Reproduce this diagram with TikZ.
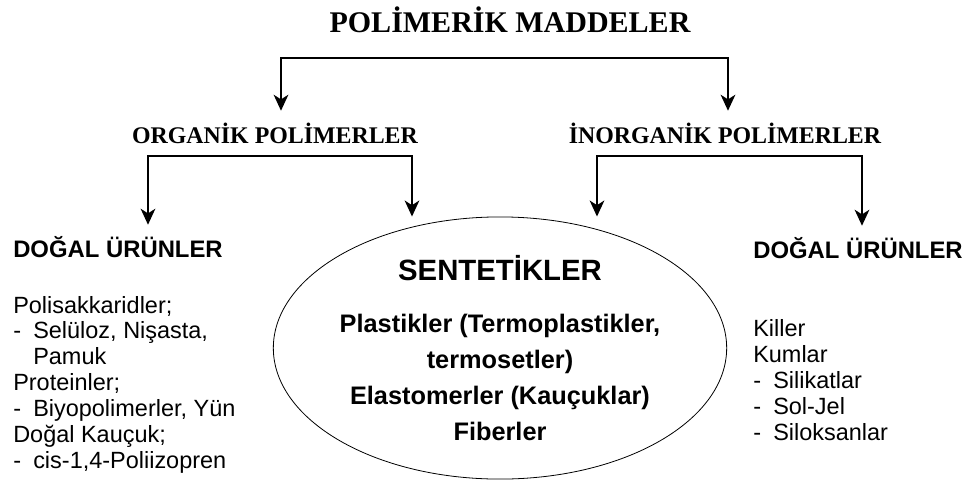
\documentclass[tikz,border=0pt]{standalone}
\usepackage{fontspec}
\setmainfont{Liberation Serif}
\setsansfont{Liberation Sans}
\usetikzlibrary{arrows.meta, shapes.geometric}

\tikzset{
	bar/.style={line width=1.5pt},
	>={Stealth[length=12pt, width=11pt, inset=3.5pt]},
	kind/.style={font=\rmfamily\bfseries\fontsize{17.9}{21}\selectfont, text height=15pt, text depth=4pt, inner xsep=0pt, inner ysep=9pt},
	nat/.style={font=\sffamily\bfseries\fontsize{17.9}{21}\selectfont, text height=15pt, text depth=4pt, inner xsep=0pt, inner ysep=9pt},
	synth/.style={ellipse, draw, line width=0.6pt, minimum width=311pt, minimum height=187.5pt, inner sep=0pt, align=center, font=\sffamily\bfseries\fontsize{19}{27}\selectfont},
	items/.style={font=\sffamily\fontsize{17.6}{19.375}\selectfont, align=left, inner sep=0pt, anchor=base west},
}
\newcommand{\itemdash}{\makebox[15pt][l]{-}}

\begin{document}
\begin{tikzpicture}[x=0.75pt, y=-0.75pt]
		\useasboundingbox (0,0) rectangle (968,497);
		
		\node[font=\rmfamily\bfseries\fontsize{22.5}{27}\selectfont, anchor=base] (poly) at (510,32) {POLİMERİK MADDELER};
		
		\node[kind, anchor=base] (org) at (275,143) {ORGANİK POLİMERLER};
		\node[kind, anchor=base] (inorg) at (725,143) {İNORGANİK POLİMERLER};
		
		\node[nat, anchor=base west] (natL) at (13,257) {DOĞAL ÜRÜNLER};
		\node[nat, anchor=base west] (natR) at (753,258) {DOĞAL ÜRÜNLER};
		
		\node[synth] (syn) at (500,348) {{\fontsize{22}{27}\selectfont SENTETİKLER}\\[12pt]
			Plastikler (Termoplastikler,\\ termosetler)\\ Elastomerler (Kauçuklar)\\ Fiberler};
		
		% base anchor of a multi-line node sits on its last line
		\node[items] (listL) at (13,468) {Polisakkaridler;\\ \itemdash Selüloz, Nişasta,\\ \hspace*{15pt}Pamuk\\ Proteinler;\\ \itemdash Biyopolimerler, Yün\\ Doğal Kauçuk;\\ \itemdash cis-1,4-Poliizopren};
		\node[items] (listR) at (753,440) {Killer\\ Kumlar\\ \itemdash Silikatlar\\ \itemdash Sol-Jel\\ \itemdash Siloksanlar};
		
		\coordinate (t1) at (281,58);
		\coordinate (t2) at (728,58);
		\draw[bar, <->] (t1 |- org.north) -- (t1) -- (t2) -- (t2 |- inorg.north);
		
		\coordinate (o1) at (148,156);
		\coordinate (o2) at (412,156);
		\draw[bar, <->] (o1 |- natL.north) -- (o1) -- (o2) -- (o2 |- syn.north);
		
		\coordinate (i1) at (597,156);
		\coordinate (i2) at (862,156);
		\draw[bar, <->] (i1 |- syn.north) -- (i1) -- (i2) -- (i2 |- natR.north);
	\end{tikzpicture}
\end{document}
